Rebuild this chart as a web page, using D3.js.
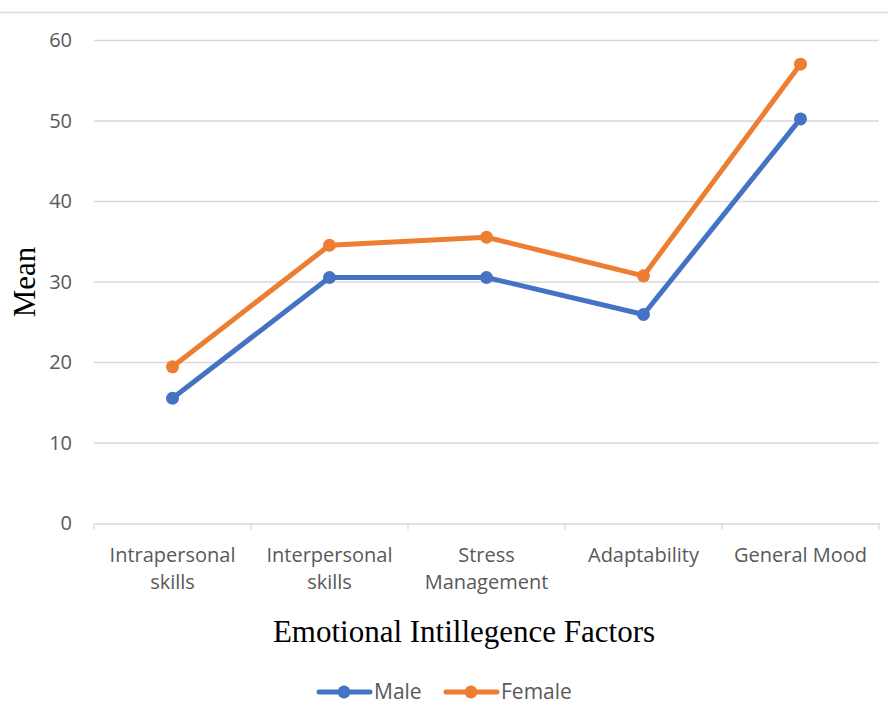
<!DOCTYPE html>
<html>
<head>
<meta charset="utf-8">
<script src="https://cdn.jsdelivr.net/npm/d3@7"></script>
<style>
  body { margin: 0; background: #fff; }
  svg { display: block; }
  .tick-label { font-family: "Open Sans", "Noto Sans", sans-serif; font-size: 20px; fill: #595959; }
</style>
</head>
<body>
<div id="chart"></div>
<script>
const categories = [
  ['Intrapersonal', 'skills'],
  ['Interpersonal', 'skills'],
  ['Stress', 'Management'],
  ['Adaptability'],
  ['General Mood']
];
const maleValues = [15.5, 30.5, 30.5, 25.9, 50.2];
const femaleValues = [19.4, 34.5, 35.5, 30.7, 57.0];
const yTicks = [0, 10, 20, 30, 40, 50, 60];

const series = [
  { name: 'Male', values: maleValues, color: '#4472C4' },
  { name: 'Female', values: femaleValues, color: '#ED7D31' }
];

const W = 888, H = 704;
const M = { left: 94, right: 879, top: 40, bottom: 523 };

const svg = d3.select('#chart').append('svg')
  .attr('width', W).attr('height', H);

// top border line
svg.append('line')
  .attr('x1', 0).attr('x2', W).attr('y1', 12.5).attr('y2', 12.5)
  .attr('stroke', '#d9d9d9').attr('stroke-width', 1.3);

const x = d3.scaleBand()
  .domain(d3.range(categories.length))
  .range([M.left, M.right]);
const y = d3.scaleLinear().domain([0, 60]).range([M.bottom, M.top]);

// gridlines
svg.append('g').selectAll('line')
  .data(yTicks.filter(t => t > 0))
  .join('line')
  .attr('x1', M.left).attr('x2', M.right)
  .attr('y1', d => y(d) + 0.5).attr('y2', d => y(d) + 0.5)
  .attr('stroke', '#d9d9d9').attr('stroke-width', 1.3);

// y tick labels
svg.append('g').selectAll('text')
  .data(yTicks)
  .join('text')
  .attr('class', 'tick-label')
  .attr('x', 72).attr('y', d => y(d))
  .attr('dy', '0.35em')
  .attr('text-anchor', 'end')
  .text(d => d);

// x axis
const xAxis = d3.axisBottom(x).tickSize(0).tickFormat('');
const gx = svg.append('g').attr('transform', `translate(0,${M.bottom + 0.5})`).call(xAxis);
gx.select('.domain').attr('stroke', '#d9d9d9').attr('stroke-width', 1.3);
gx.selectAll('.tick').remove();
const bounds = d3.range(categories.length + 1).map(i => M.left + i * x.step());
gx.selectAll('line.sep')
  .data(bounds)
  .join('line')
  .attr('class', 'sep')
  .attr('x1', d => d).attr('x2', d => d)
  .attr('y1', 0).attr('y2', 6)
  .attr('stroke', '#d9d9d9').attr('stroke-width', 1.3);

// x category labels
const lab = svg.append('g').selectAll('text')
  .data(categories)
  .join('text')
  .attr('class', 'tick-label')
  .attr('text-anchor', 'middle')
  .attr('x', (d, i) => x(i) + x.bandwidth() / 2)
  .attr('y', 562);
lab.selectAll('tspan')
  .data(d => d)
  .join('tspan')
  .attr('x', function () { return d3.select(this.parentNode).attr('x'); })
  .attr('dy', (d, i) => i === 0 ? 0 : 27)
  .text(d => d);

// lines and markers
const line = d3.line()
  .x((d, i) => x(i) + x.bandwidth() / 2)
  .y(d => y(d));

series.forEach(s => {
  svg.append('path')
    .datum(s.values)
    .attr('d', line)
    .attr('fill', 'none')
    .attr('stroke', s.color)
    .attr('stroke-width', 5)
    .attr('stroke-linejoin', 'round')
    .attr('stroke-linecap', 'round');
  svg.append('g').selectAll('circle')
    .data(s.values)
    .join('circle')
    .attr('cx', (d, i) => x(i) + x.bandwidth() / 2)
    .attr('cy', d => y(d))
    .attr('r', 6.5)
    .attr('fill', s.color);
});

// axis titles
svg.append('text')
  .attr('transform', 'translate(35,282) rotate(-90)')
  .attr('text-anchor', 'middle')
  .style('font-family', '"Liberation Serif", "Times New Roman", serif')
  .style('font-size', '31px')
  .attr('fill', '#000')
  .text('Mean');

svg.append('text')
  .attr('x', 464).attr('y', 642)
  .attr('text-anchor', 'middle')
  .style('font-family', '"Liberation Serif", "Times New Roman", serif')
  .style('font-size', '31px')
  .attr('fill', '#000')
  .text('Emotional Intillegence Factors');

// legend
const legendX = [317, 444];
const leg = svg.append('g').selectAll('g')
  .data(series)
  .join('g')
  .attr('transform', (d, i) => `translate(${legendX[i]},692)`);
leg.append('line')
  .attr('x1', 2).attr('x2', 53).attr('y1', 0).attr('y2', 0)
  .attr('stroke', d => d.color).attr('stroke-width', 5)
  .attr('stroke-linecap', 'round');
leg.append('circle')
  .attr('cx', 27).attr('r', 6.5)
  .attr('fill', d => d.color);
leg.append('text')
  .attr('class', 'tick-label')
  .attr('x', 57).attr('dy', '0.35em')
  .style('font-size', '21px')
  .text(d => d.name);
</script>
</body>
</html>
